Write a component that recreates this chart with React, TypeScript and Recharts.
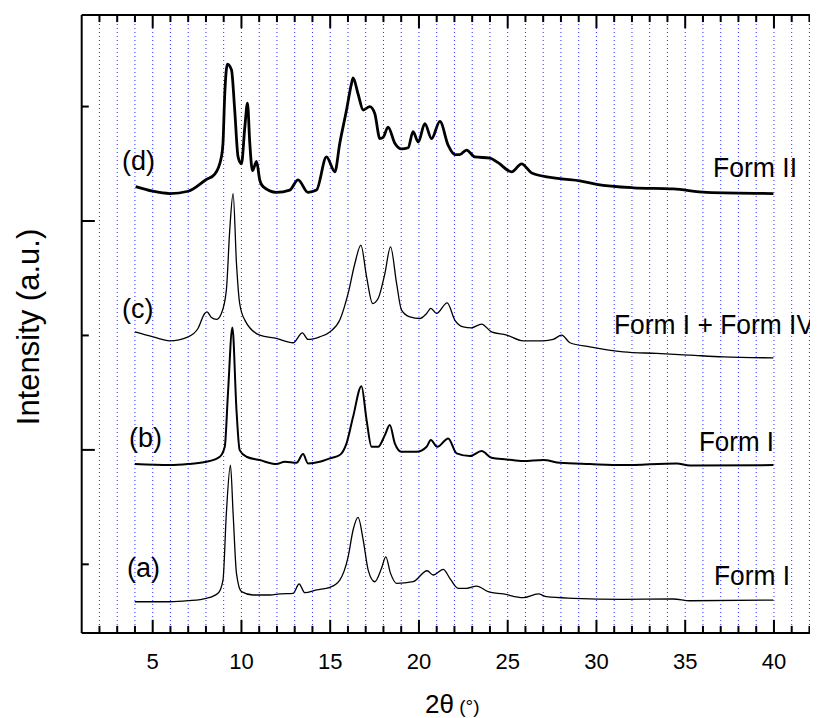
import { LineChart, Line, XAxis, YAxis, ReferenceLine } from "recharts";

// 2-theta (deg) / intensity (a.u., stacked offsets)
const curveA: [number, number][] = [
  [3.99, 0.273], [5.96, 0.273], [7.0, 0.282], [8.03, 0.303], [8.68, 0.347], [8.96, 0.463],
  [9.15, 1.045], [9.38, 1.467], [9.53, 1.045], [9.72, 0.521], [10.0, 0.361], [10.65, 0.332],
  [11.6, 0.332], [12.16, 0.341], [12.91, 0.347], [13.25, 0.428], [13.57, 0.352], [14.23, 0.376],
  [14.98, 0.399], [15.54, 0.463], [16.01, 0.666], [16.29, 0.9], [16.57, 1.01], [16.86, 0.812],
  [17.14, 0.55], [17.51, 0.448], [17.89, 0.565], [18.13, 0.666], [18.4, 0.521], [18.74, 0.434],
  [19.67, 0.448], [20.46, 0.544], [20.8, 0.507], [21.37, 0.556], [21.74, 0.478], [22.21, 0.39],
  [22.68, 0.39], [23.25, 0.41], [23.9, 0.361], [24.75, 0.341], [25.87, 0.309], [26.72, 0.341],
  [27.19, 0.317], [28.69, 0.303], [31.51, 0.294], [34.33, 0.297], [35.27, 0.282], [39.97, 0.288],
];

const curveB: [number, number][] = [
  [3.99, 1.476], [5.96, 1.467], [7.0, 1.476], [8.03, 1.496], [8.78, 1.54], [9.06, 1.627],
  [9.24, 2.093], [9.49, 2.67], [9.72, 1.948], [9.9, 1.598], [10.28, 1.54], [11.03, 1.511],
  [11.97, 1.476], [12.44, 1.496], [13.1, 1.487], [13.47, 1.563], [13.75, 1.482], [14.41, 1.496],
  [14.98, 1.526], [15.54, 1.555], [15.92, 1.657], [16.29, 1.889], [16.76, 2.157], [17.05, 1.86],
  [17.33, 1.627], [17.7, 1.627], [18.08, 1.729], [18.36, 1.817], [18.64, 1.657], [19.02, 1.583],
  [19.87, 1.583], [20.43, 1.627], [20.67, 1.686], [21.03, 1.627], [21.65, 1.7], [22.12, 1.569],
  [22.87, 1.546], [23.53, 1.59], [24.09, 1.531], [24.94, 1.517], [25.87, 1.502], [27.0, 1.511],
  [27.94, 1.487], [29.63, 1.476], [31.51, 1.467], [34.52, 1.482], [35.27, 1.464], [39.97, 1.467],
];

const curveC: [number, number][] = [
  [3.99, 2.631], [5.02, 2.588], [5.96, 2.553], [7.0, 2.588], [7.55, 2.661], [7.93, 2.792],
  [8.06, 2.806], [8.31, 2.757], [8.59, 2.74], [8.87, 2.792], [9.15, 2.996], [9.34, 3.52],
  [9.53, 3.84], [9.72, 3.229], [9.9, 2.879], [10.19, 2.734], [11.03, 2.603], [11.97, 2.574],
  [12.91, 2.536], [13.43, 2.623], [13.75, 2.565], [14.41, 2.588], [14.98, 2.631], [15.54, 2.734],
  [16.01, 2.967], [16.39, 3.229], [16.73, 3.389], [17.05, 3.112], [17.39, 2.879], [17.7, 2.923],
  [18.08, 3.141], [18.4, 3.374], [18.74, 3.054], [19.02, 2.821], [19.49, 2.762], [20.05, 2.748],
  [20.43, 2.792], [20.67, 2.836], [20.99, 2.792], [21.59, 2.885], [22.02, 2.734], [22.49, 2.675],
  [22.96, 2.667], [23.53, 2.699], [24.09, 2.631], [24.94, 2.603], [25.87, 2.553], [27.0, 2.553],
  [27.56, 2.565], [28.04, 2.603], [28.51, 2.536], [29.63, 2.501], [31.51, 2.457], [33.39, 2.443],
  [35.27, 2.428], [37.15, 2.413], [39.97, 2.404],
];

const curveD: [number, number][] = [
  [4.04, 3.9], [5.0, 3.86], [5.96, 3.84], [7.0, 3.86], [8.0, 3.96], [8.5, 4.01], [8.87, 4.16],
  [8.96, 4.28], [9.06, 4.71], [9.21, 4.97], [9.44, 4.92], [9.62, 4.57], [9.81, 4.16], [10.0, 4.1],
  [10.19, 4.42], [10.34, 4.63], [10.47, 4.28], [10.62, 4.04], [10.85, 4.12], [11.03, 3.96],
  [11.22, 3.9], [11.97, 3.85], [12.72, 3.87], [13.19, 3.96], [13.75, 3.85], [14.23, 3.87],
  [14.79, 4.16], [15.26, 4.03], [15.54, 4.28], [15.92, 4.57], [16.2, 4.8], [16.29, 4.85],
  [16.57, 4.71], [16.86, 4.57], [17.23, 4.6], [17.51, 4.54], [17.8, 4.32], [17.98, 4.33],
  [18.26, 4.42], [18.64, 4.28], [19.02, 4.23], [19.39, 4.24], [19.67, 4.38], [19.96, 4.29],
  [20.33, 4.45], [20.71, 4.32], [21.18, 4.47], [21.65, 4.26], [22.02, 4.18], [22.3, 4.18],
  [22.68, 4.22], [23.15, 4.16], [24.0, 4.15], [24.46, 4.11], [25.22, 4.03], [25.78, 4.1],
  [26.35, 4.02], [27.94, 3.97], [29.07, 3.95], [30.01, 3.92], [32.08, 3.89], [34.33, 3.88],
  [36.2, 3.85], [39.97, 3.84],
];

const X_MIN = 1;
const X_MAX = 43;
const Y_MIN = 0;
const Y_MAX = 5.4;
const xTicks = Array.from({ length: 41 }, (_, i) => i + 2);
const xLabels = [5, 10, 15, 20, 25, 30, 35, 40];
const yTicks = [0.6, 1.6, 2.6, 3.6, 4.6];
const yMajor = [1.6, 3.6];

// tick lengths in data units (x: ~17.7 px/deg, y: ~114.5 px/unit)
const xTickLen = (v: number) => (v % 5 === 0 ? 0.115 : 0.062);
const yTickLen = (v: number) => (yMajor.includes(v) ? 0.74 : 0.4);

const FONT = "'Liberation Sans', Arial, sans-serif";

const toRows = (pts: [number, number][]) => pts.map(([x, y]) => ({ x, y }));

const LabelTick = (props: any) => {
  const { x, y, payload } = props;
  const v = payload.value;
  if (!xLabels.includes(v)) return <g />;
  return (
    <text x={x} y={y + 36} textAnchor="middle" fontSize={22} fontFamily={FONT} fill="#000">
      {v}
    </text>
  );
};

const curves = [
  { name: "a", data: curveA, w: 1.3 },
  { name: "b", data: curveB, w: 2 },
  { name: "c", data: curveC, w: 1.3 },
  { name: "d", data: curveD, w: 2.8 },
];

const notes = [
  { t: "(d)", x: 122, y: 170, w: 0 },
  { t: "(c)", x: 122, y: 318, w: 0 },
  { t: "(b)", x: 129, y: 447, w: 0 },
  { t: "(a)", x: 127, y: 577, w: 0 },
  { t: "Form II", x: 713, y: 177, w: 84 },
  { t: "Form I + Form IV", x: 614, y: 334, w: 200 },
  { t: "Form I", x: 699, y: 451, w: 75 },
  { t: "Form I", x: 714, y: 585, w: 76 },
];

const ax = { stroke: "#000", strokeWidth: 2, isFront: true } as const;

export default function App() {
  return (
    <div style={{ position: "relative", width: 810, height: 710, overflow: "hidden" }}>
      <LineChart width={840} height={710} margin={{ top: 7, right: 20.8, bottom: 45, left: 73.7 }}>
        <XAxis
          dataKey="x"
          type="number"
          domain={[X_MIN, X_MAX]}
          allowDataOverflow
          ticks={xTicks}
          interval={0}
          height={40}
          tickSize={0}
          tickMargin={0}
          tickLine={false}
          axisLine={false}
          tick={<LabelTick />}
        />
        <YAxis type="number" domain={[Y_MIN, Y_MAX]} allowDataOverflow hide />
        {xTicks.map((t) => (
          <ReferenceLine key={`g${t}`} x={t} stroke="#2a2aff" strokeWidth={1} strokeDasharray="1 3" />
        ))}
        {curves.map((c) => (
          <Line
            key={c.name}
            data={toRows(c.data)}
            dataKey="y"
            type="monotone"
            stroke="#000"
            strokeWidth={c.w}
            dot={false}
            isAnimationActive={false}
          />
        ))}
        {xTicks.map((t) => (
          <ReferenceLine
            key={`tb${t}`}
            segment={[{ x: t, y: Y_MIN }, { x: t, y: Y_MIN + xTickLen(t) }]}
            {...ax}
          />
        ))}
        {xTicks.map((t) => (
          <ReferenceLine
            key={`tt${t}`}
            segment={[{ x: t, y: Y_MAX }, { x: t, y: Y_MAX - xTickLen(t) }]}
            {...ax}
          />
        ))}
        {yTicks.map((t) => (
          <ReferenceLine
            key={`tl${t}`}
            segment={[{ x: X_MIN, y: t }, { x: X_MIN + yTickLen(t), y: t }]}
            {...ax}
          />
        ))}
        {yTicks.map((t) => (
          <ReferenceLine
            key={`tr${t}`}
            segment={[{ x: X_MAX, y: t }, { x: X_MAX - yTickLen(t), y: t }]}
            {...ax}
          />
        ))}
        <ReferenceLine x={X_MIN} {...ax} />
        <ReferenceLine x={X_MAX} {...ax} />
        <ReferenceLine y={Y_MIN} {...ax} />
        <ReferenceLine y={Y_MAX} {...ax} />
      </LineChart>
      <svg
        width={810}
        height={710}
        style={{ position: "absolute", left: 0, top: 0, pointerEvents: "none" }}
      >
        {notes.map((n, i) => (
          <text
            key={i}
            x={n.x - 8}
            y={n.y - 8}
            fontSize={27}
            fontFamily={FONT}
            fill="#000"
            {...(n.w ? { textLength: n.w, lengthAdjust: "spacingAndGlyphs" } : {})}
          >
            {n.t}
          </text>
        ))}
        <text
          transform="translate(31, 319) rotate(-90)"
          textAnchor="middle"
          fontSize={31}
          fontFamily={FONT}
          fill="#000"
        >
          Intensity (a.u.)
        </text>
        <text x={417} y={705} fontFamily={FONT} fill="#000">
          <tspan fontSize={26}>2θ</tspan>
          <tspan fontSize={19}> (°)</tspan>
        </text>
      </svg>
    </div>
  );
}
